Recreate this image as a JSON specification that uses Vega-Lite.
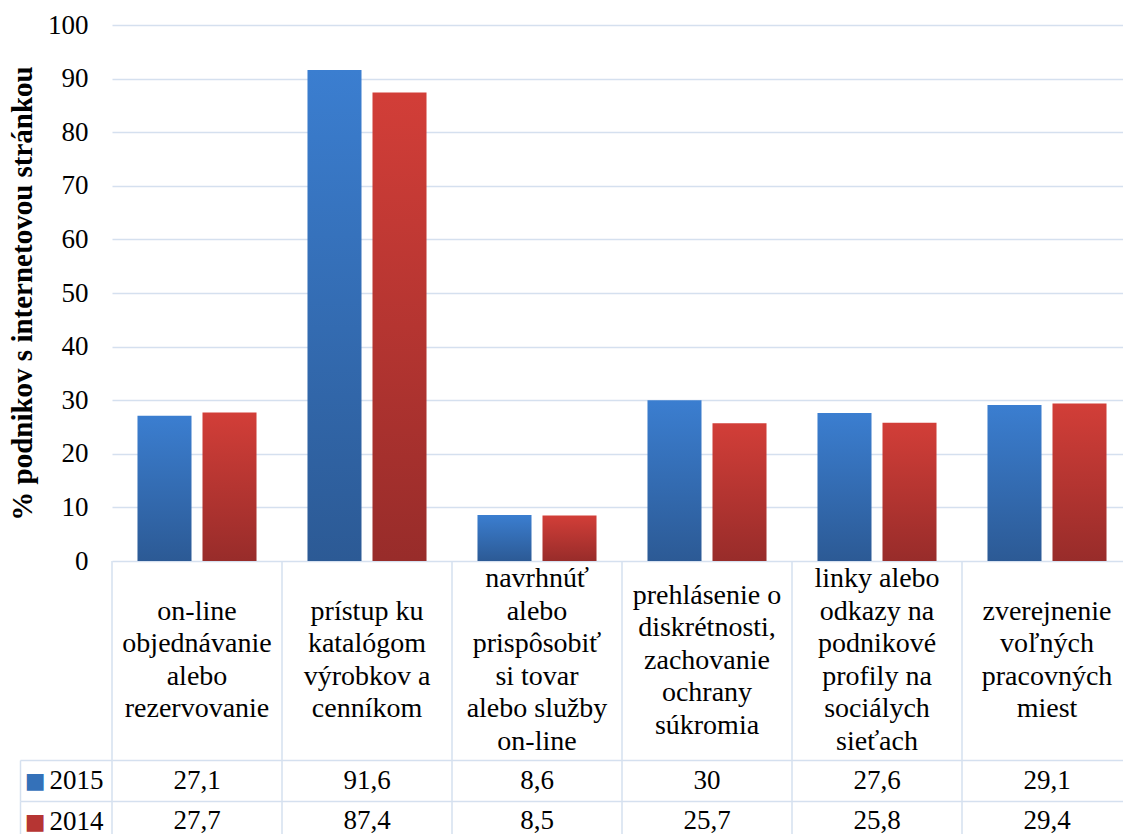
{
  "$schema": "https://vega.github.io/schema/vega-lite/v6.json",
  "padding": {"left": 8, "top": 11, "right": 0, "bottom": 0},
  "spacing": 0,
  "bounds": "flush",
  "datasets": {
    "d": [
      {"kategoria": "on-line\nobjednávanie\nalebo\nrezervovanie", "rok": "2015", "hodnota": 27.1},
      {"kategoria": "on-line\nobjednávanie\nalebo\nrezervovanie", "rok": "2014", "hodnota": 27.7},
      {"kategoria": "prístup ku\nkatalógom\nvýrobkov a\ncenníkom", "rok": "2015", "hodnota": 91.6},
      {"kategoria": "prístup ku\nkatalógom\nvýrobkov a\ncenníkom", "rok": "2014", "hodnota": 87.4},
      {"kategoria": "navrhnúť\nalebo\nprispôsobiť\nsi tovar\nalebo služby\non-line", "rok": "2015", "hodnota": 8.6},
      {"kategoria": "navrhnúť\nalebo\nprispôsobiť\nsi tovar\nalebo služby\non-line", "rok": "2014", "hodnota": 8.5},
      {"kategoria": "prehlásenie o\ndiskrétnosti,\nzachovanie\nochrany\nsúkromia", "rok": "2015", "hodnota": 30},
      {"kategoria": "prehlásenie o\ndiskrétnosti,\nzachovanie\nochrany\nsúkromia", "rok": "2014", "hodnota": 25.7},
      {"kategoria": "linky alebo\nodkazy na\npodnikové\nprofily na\nsociálych\nsieťach", "rok": "2015", "hodnota": 27.6},
      {"kategoria": "linky alebo\nodkazy na\npodnikové\nprofily na\nsociálych\nsieťach", "rok": "2014", "hodnota": 25.8},
      {"kategoria": "zverejnenie\nvoľných\npracovných\nmiest", "rok": "2015", "hodnota": 29.1},
      {"kategoria": "zverejnenie\nvoľných\npracovných\nmiest", "rok": "2014", "hodnota": 29.4}
    ]
  },
  "resolve": {"scale": {"x": "independent", "y": "independent"}},
  "vconcat": [
    {
      "width": 1012,
      "height": 536,
      "data": {"name": "d"},
      "encoding": {
        "x": {"field": "kategoria", "type": "nominal", "sort": null,
              "scale": {"range": [0, 1020], "paddingInner": 0, "paddingOuter": 0}, "axis": null},
        "xOffset": {"field": "rok", "type": "nominal",
                    "scale": {"domain": ["2015", "2014"], "paddingInner": 0.169, "paddingOuter": 0.392}},
        "y": {"field": "hodnota", "type": "quantitative",
              "scale": {"domain": [0, 100], "nice": false},
              "axis": {"values": [0, 10, 20, 30, 40, 50, 60, 70, 80, 90, 100],
                       "title": "% podnikov s internetovou stránkou",
                       "titleFont": "Liberation Serif", "titleFontSize": 29, "titleFontWeight": "bold",
                       "titleColor": "black", "titlePadding": 10,
                       "labelFont": "Liberation Serif", "labelFontSize": 27, "labelColor": "black",
                       "labelPadding": 24, "ticks": false, "domain": false,
                       "grid": true, "gridColor": "#d5e0ef", "gridWidth": 1.5}}
      },
      "layer": [
        {
          "transform": [{"filter": "datum.rok == '2015'"}],
          "mark": {"type": "bar", "color": {"gradient": "linear", "x1": 0, "y1": 0, "x2": 0, "y2": 1,
                   "stops": [{"offset": 0, "color": "#3b7ed0"}, {"offset": 1, "color": "#2c5a95"}]}}
        },
        {
          "transform": [{"filter": "datum.rok == '2014'"}],
          "mark": {"type": "bar", "color": {"gradient": "linear", "x1": 0, "y1": 0, "x2": 0, "y2": 1,
                   "stops": [{"offset": 0, "color": "#d23e38"}, {"offset": 1, "color": "#982c2a"}]}}
        }
      ]
    },
    {
      "width": 1012,
      "height": 199,
      "data": {"name": "d"},
      "transform": [{"filter": "datum.rok == '2015'"}],
      "encoding": {
        "x": {"field": "kategoria", "type": "nominal", "sort": null,
              "scale": {"range": [0, 1020], "paddingInner": 0, "paddingOuter": 0}, "axis": null}
      },
      "layer": [
        {
          "mark": {"type": "rule", "color": "#d5e0ef", "strokeWidth": 1.5},
          "encoding": {"x": {"field": "kategoria", "type": "nominal", "sort": null, "bandPosition": 0}}
        },
        {
          "mark": {"type": "text", "font": "Liberation Serif", "fontSize": 28, "lineBreak": "\n",
                   "lineHeight": 32.5, "baseline": "middle", "color": "black",
                   "dy": {"expr": "-16.25 * (length(split(datum.kategoria, '\\n')) - 1)"}},
          "encoding": {"text": {"field": "kategoria"}}
        }
      ]
    },
    {
      "width": 1012,
      "height": 41,
      "data": {"name": "d"},
      "transform": [{"filter": "datum.rok == '2015'"}],
      "encoding": {
        "x": {"field": "kategoria", "type": "nominal", "sort": null,
              "scale": {"range": [0, 1020], "paddingInner": 0, "paddingOuter": 0}, "axis": null}
      },
      "layer": [
        {
          "mark": {"type": "rule", "color": "#d5e0ef", "strokeWidth": 1.5},
          "encoding": {"x": {"field": "kategoria", "type": "nominal", "sort": null, "bandPosition": 0}}
        },
        {
          "mark": {"type": "text", "font": "Liberation Serif", "fontSize": 27, "color": "black", "baseline": "middle"},
          "encoding": {
            "y": {"field": "rok", "type": "nominal", "scale": {"paddingInner": 0, "paddingOuter": 0},
                  "axis": {"orient": "left", "title": null, "offset": 92,
                           "domain": true, "domainColor": "#d5e0ef", "domainWidth": 1.5,
                           "ticks": true, "tickBand": "extent", "tickSize": -92, "tickColor": "#d5e0ef", "tickWidth": 1.5,
                           "grid": true, "gridColor": "#d5e0ef", "gridWidth": 1.5,
                           "labelFont": "Liberation Serif", "labelFontSize": 27, "labelColor": "black",
                           "labelPadding": 9}},
            "text": {"field": "hodnota", "type": "quantitative", "format": ".1~f"}
          }
        },
        {
          "mark": {"type": "text", "text": ""},
          "encoding": {
            "y": {"field": "rok", "type": "nominal", "scale": {"paddingInner": 0, "paddingOuter": 0},
                  "axis": {"orient": "left", "title": null, "offset": 92, "domain": false, "ticks": false, "grid": false,
                           "labelExpr": "'■'", "labelFont": "DejaVu Sans", "labelFontSize": 22,
                           "labelColor": "#3471b9", "labelPadding": -25}}
          }
        }
      ],
      "resolve": {"axis": {"y": "independent"}}
    },
    {
      "width": 1012,
      "height": 33,
      "data": {"name": "d"},
      "transform": [{"filter": "datum.rok == '2014'"}],
      "encoding": {
        "x": {"field": "kategoria", "type": "nominal", "sort": null,
              "scale": {"range": [0, 1020], "paddingInner": 0, "paddingOuter": 0}, "axis": null}
      },
      "layer": [
        {
          "mark": {"type": "rule", "color": "#d5e0ef", "strokeWidth": 1.5},
          "encoding": {"x": {"field": "kategoria", "type": "nominal", "sort": null, "bandPosition": 0}}
        },
        {
          "mark": {"type": "text", "font": "Liberation Serif", "fontSize": 27, "color": "black", "baseline": "middle", "dy": 3.5},
          "encoding": {
            "y": {"field": "rok", "type": "nominal", "scale": {"paddingInner": 0, "paddingOuter": 0},
                  "axis": {"orient": "left", "title": null, "offset": 92,
                           "domain": true, "domainColor": "#d5e0ef", "domainWidth": 1.5,
                           "ticks": false, "grid": false,
                           "labelFont": "Liberation Serif", "labelFontSize": 27, "labelColor": "black",
                           "labelPadding": -83, "labelOffset": 3.5}},
            "text": {"field": "hodnota", "type": "quantitative", "format": ".1~f"}
          }
        },
        {
          "mark": {"type": "text", "text": ""},
          "encoding": {
            "y": {"field": "rok", "type": "nominal", "scale": {"paddingInner": 0, "paddingOuter": 0},
                  "axis": {"orient": "left", "title": null, "offset": 92, "domain": false, "ticks": false, "grid": false,
                           "labelExpr": "'■'", "labelFont": "DejaVu Sans", "labelFontSize": 22,
                           "labelColor": "#b63533", "labelPadding": -25, "labelOffset": 3.5}}
          }
        }
      ],
      "resolve": {"axis": {"y": "independent"}}
    }
  ],
  "config": {
    "view": {"stroke": null},
    "locale": {"number": {"decimal": ",", "thousands": " ", "grouping": [3], "currency": ["", " €"]}}
  }
}
